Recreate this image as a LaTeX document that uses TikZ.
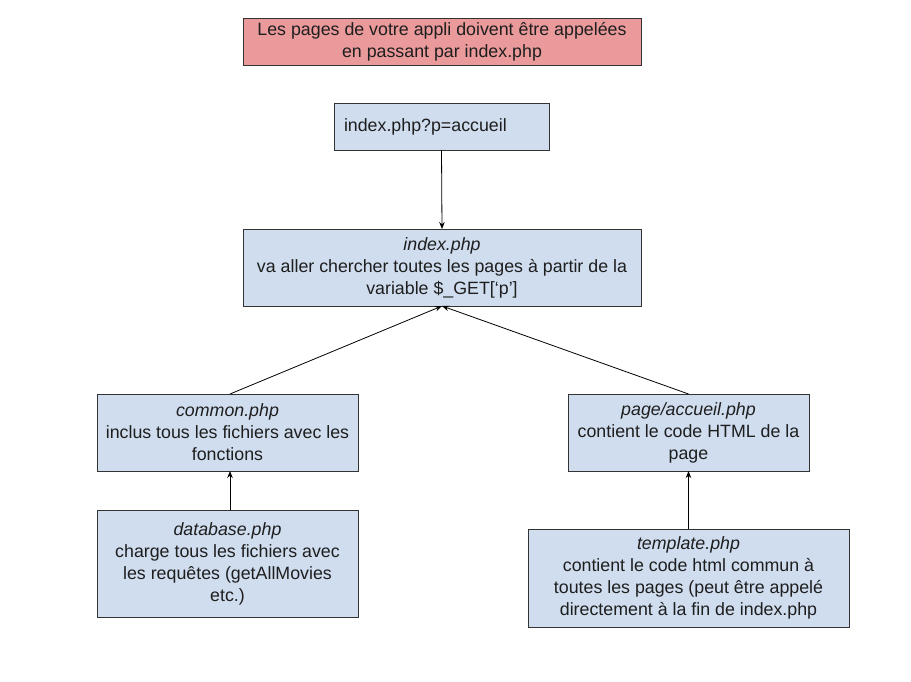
\documentclass[tikz,border=0pt]{standalone}
\usepackage{fontspec}
\setmainfont{Liberation Sans}
\usetikzlibrary{arrows.meta}
\definecolor{boxblue}{HTML}{CFDDEF}
\definecolor{boxred}{HTML}{EA9A9B}
\definecolor{edge}{HTML}{333333}
\definecolor{txt}{HTML}{1E1E1E}
\begin{document}
\begin{tikzpicture}[x=1pt,y=-1pt,
  box/.style={draw=edge, line width=0.9pt, fill=boxblue, align=center, text=txt,
    font=\fontsize{17.8}{22}\selectfont, inner sep=0pt, outer sep=0pt},
  conn/.style={draw=black, line width=0.8pt, -{Stealth[length=7pt,width=5.5pt]}}]
\useasboundingbox[fill=white] (0,0) rectangle (911,682);
\node[box, fill=boxred, minimum width=398pt, minimum height=47pt] (title) at (442,41.5)
  {Les pages de votre appli doivent être appelées\\en passant par index.php};
\node[box, minimum width=215pt, minimum height=47pt, align=left, text width=195pt] (req) at (441.5,126.5)
  {index.php?p=accueil};
\node[box, minimum width=398pt, minimum height=77pt] (index) at (442,267.5)
  {\textit{index.php}\\va aller chercher toutes les pages à partir de la\\variable \$\_GET[‘p’]};
\node[box, minimum width=261pt, minimum height=77pt] (common) at (227.5,432.5)
  {\textit{common.php}\\inclus tous les fichiers avec les\\fonctions};
\node[box, minimum width=241pt, minimum height=77pt] (page) at (688.5,432.5)
  {\textit{page/accueil.php}\\contient le code HTML de la\\page};
\node[box, minimum width=261pt, minimum height=107pt] (db) at (227.5,563.5)
  {\textit{database.php}\\charge tous les fichiers avec\\les requêtes (getAllMovies\\etc.)};
\node[box, minimum width=321pt, minimum height=98pt] (tpl) at (688.5,578)
  {\textit{template.php}\\contient le code html commun à\\toutes les pages (peut être appelé\\directement à la fin de index.php};
\draw[conn] (req.south) -- (index.north);
\draw[conn] ([xshift=2.5pt]common.north) -- (index.south);
\draw[conn] (page.north) -- (index.south);
\draw[conn] ([xshift=2.5pt]db.north) -- ([xshift=2.5pt]common.south);
\draw[conn] (tpl.north) -- (page.south);
\end{tikzpicture}
\end{document}
